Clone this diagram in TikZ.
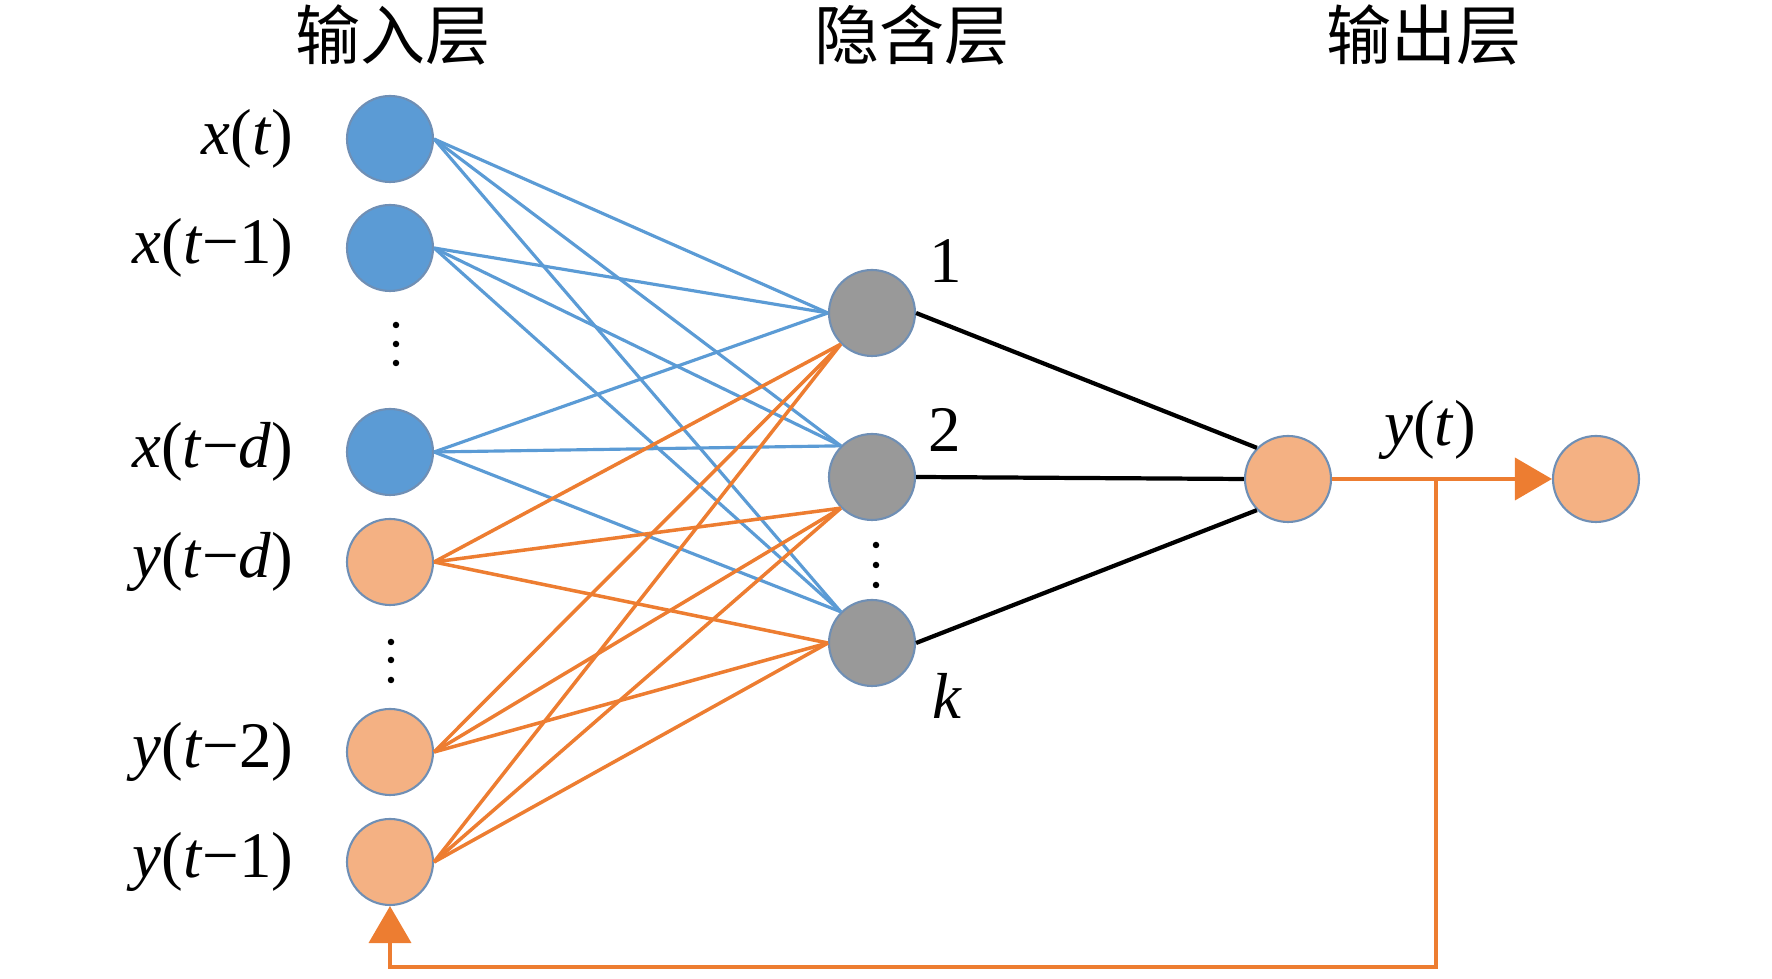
\documentclass[tikz,border=0pt]{standalone}
\usepackage{fontspec}
\setmainfont{Liberation Serif}
\newfontfamily\cjk{Noto Sans CJK SC}
\usetikzlibrary{arrows.meta}
\definecolor{inblue}{HTML}{5B9BD5}
\definecolor{inorange}{HTML}{F4B183}
\definecolor{lnorange}{HTML}{ED7D31}
\definecolor{hidgray}{HTML}{999999}
\definecolor{rimblue}{HTML}{6F8FB5}
\tikzset{
    neuron/.style ={
        circle,
        minimum size =0.86cm,
        inner sep=0pt,
        draw=rimblue,
        line width=0.6pt
    },
    xneuron/.style ={neuron, fill=inblue},
    yneuron/.style ={neuron, fill=inorange},
    hneuron/.style ={neuron, fill=hidgray},
    lbl/.style ={inner sep=0pt, font=\fontsize{18.5}{20}\selectfont},
    title/.style ={inner sep=0pt, font=\fontsize{18.5}{20}\selectfont\cjk},
    xline/.style ={draw=inblue, line width=0.9pt},
    yline/.style ={draw=lnorange, line width=1pt},
    hline/.style ={draw=black, line width=1.2pt},
    outline/.style ={draw=lnorange, line width=1.1pt,
        -{Triangle[length=0.37cm,width=0.42cm]}},
    dot/.style ={circle, fill=black, inner sep=0pt, minimum size=0.065cm}
}

\begin{document}
\begin{tikzpicture}
        \useasboundingbox (0,0) rectangle (17.72,9.79);
        % titles
        \node[title] (TIN) at(3.93,9.44) {输入层};
        \node[title] (THID) at(9.12,9.44) {隐含层};
        \node[title] (TOUT) at(14.24,9.44) {输出层};
        % input layer
        \node[xneuron] (XT) at(3.90,8.40) {};
        \node[xneuron] (XT1) at(3.90,7.31) {};
        \node[xneuron] (XTD) at(3.90,5.27) {};
        \node[yneuron] (YTD) at(3.90,4.17) {};
        \node[yneuron] (YT2) at(3.90,2.27) {};
        \node[yneuron] (YT1) at(3.90,1.17) {};
        \node[lbl, anchor=east] (LXT) at(2.94,8.40) {\textit{x}(\textit{t})};
        \node[lbl, anchor=east] (LXT1) at(2.94,7.31) {\textit{x}(\textit{t}−1)};
        \node[lbl, anchor=east] (LXTD) at(2.94,5.27) {\textit{x}(\textit{t}−\textit{d})};
        \node[lbl, anchor=east] (LYTD) at(2.94,4.17) {\textit{y}(\textit{t}−\textit{d})};
        \node[lbl, anchor=east] (LYT2) at(2.94,2.27) {\textit{y}(\textit{t}−2)};
        \node[lbl, anchor=east] (LYT1) at(2.94,1.17) {\textit{y}(\textit{t}−1)};
        \node[dot] (DA1) at(3.96,6.54) {};
        \node[dot] (DA2) at(3.96,6.35) {};
        \node[dot] (DA3) at(3.96,6.16) {};
        \node[dot] (DB1) at(3.91,3.37) {};
        \node[dot] (DB2) at(3.91,3.19) {};
        \node[dot] (DB3) at(3.91,2.99) {};
        % hidden layer
        \node[hneuron] (H1) at(8.72,6.66) {};
        \node[hneuron] (H2) at(8.72,5.02) {};
        \node[hneuron] (HK) at(8.72,3.36) {};
        \node[lbl] (L1) at(9.46,7.18) {1};
        \node[lbl] (L2) at(9.45,5.49) {2};
        \node[lbl] (LK) at(9.47,2.83) {\textit{k}};
        \node[dot] (DC1) at(8.76,4.34) {};
        \node[dot] (DC2) at(8.76,4.14) {};
        \node[dot] (DC3) at(8.76,3.94) {};
        % output layer
        \node[yneuron] (OUT) at(12.88,5.00) {};
        \node[yneuron] (YOUT) at(15.96,5.00) {};
        \node[lbl] (LYT) at(14.30,5.49) {\textit{y}(\textit{t})};
        \coordinate (FB) at(14.36,5.00);
        \coordinate (FBB) at(14.36,0.12);
        % input to hidden
        \draw[xline] (XT.east)--(H1.west);
        \draw[xline] (XT.east)--(H2.north west);
        \draw[xline] (XT.east)--(HK.north west);
        \draw[xline] (XT1.east)--(H1.west);
        \draw[xline] (XT1.east)--(H2.north west);
        \draw[xline] (XT1.east)--(HK.north west);
        \draw[xline] (XTD.east)--(H1.west);
        \draw[xline] (XTD.east)--(H2.north west);
        \draw[xline] (XTD.east)--(HK.north west);
        \draw[yline] (YTD.east)--(H1.south west);
        \draw[yline] (YTD.east)--(H2.south west);
        \draw[yline] (YTD.east)--(HK.west);
        \draw[yline] (YT2.east)--(H1.south west);
        \draw[yline] (YT2.east)--(H2.south west);
        \draw[yline] (YT2.east)--(HK.west);
        \draw[yline] (YT1.east)--(H1.south west);
        \draw[yline] (YT1.east)--(H2.south west);
        \draw[yline] (YT1.east)--(HK.west);
        % hidden to output
        \draw[hline] (H1.east)--(OUT.north west);
        \draw[hline] (H2.east)--(OUT.west);
        \draw[hline] (HK.east)--(OUT.south west);
        % output and feedback
        \draw[outline] (OUT.east)--(YOUT.west);
        \draw[outline] (FB)--(FBB)-|(YT1.south);
    \end{tikzpicture}
\end{document}
